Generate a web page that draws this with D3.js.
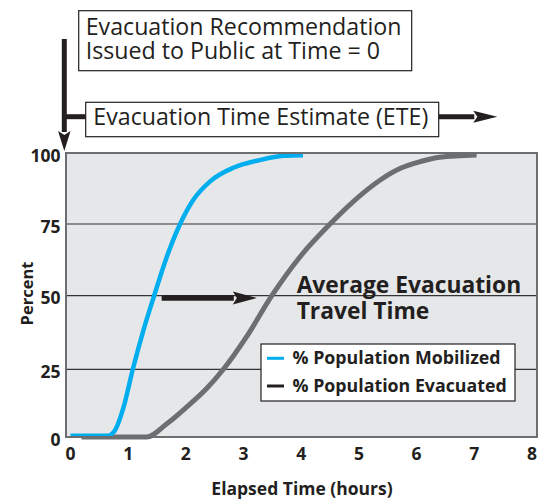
<!DOCTYPE html>
<html><head><meta charset="utf-8">
<script src="https://cdn.jsdelivr.net/npm/d3@7"></script>
<style>body{margin:0;background:#fff}svg{display:block}text{font-family:"Open Sans",sans-serif;fill:#231f20}</style>
</head><body><svg id="c" width="544" height="500"></svg>
<script>
// ---- data ----
const hourTicks = [0,1,2,3,4,5,6,7,8];
const percentTicks = [0,25,50,75,100];
const mobilizedTime = [0,0.65,0.77,0.92,1.08,1.26,1.45,1.67,1.90,2.13,2.42,2.82,3.28,3.69,4.03];
const mobilizedPct  = [0.5,0.5,2.4,11,25,38,50,63.6,75,83.5,90,94.8,97.5,99,99.2];
const evacuatedTime = [0.19,1.32,1.67,2.01,2.36,2.65,3.05,3.49,3.98,4.50,5.02,5.37,5.72,6.07,6.40,7.04];
const evacuatedPct  = [0,0,4.9,11,17.9,25,36,50,63.6,75,85,90.5,94.6,97,98.5,99.3];
const seriesNames = ["% Population Mobilized","% Population Evacuated"];
const seriesColors = ["#00aeef","#6d6e70"];
const legendSwatch = ["#00aeef","#231f20"];
const travelArrowTime = [1.58,3.23];
const travelArrowPct = 49.2;
const travelLabel = ["Average Evacuation","Travel Time"];
const travelLabelAt = [3.92, 51];
const topBoxLines = ["Evacuation Recommendation","Issued to Public at Time = 0"];
const eteLabel = "Evacuation Time Estimate (ETE)";
const xTitle = "Elapsed Time (hours)";
const yTitle = "Percent";

// ---- layout ----
const svg = d3.select("#c");
const plot = {l:66, r:537, t:153, b:437};
const x = d3.scaleLinear().domain([0,8]).range([70.5,532]);
const y = d3.scaleLinear().domain(percentTicks).range([437,369.3,295.7,224,153]);
const ink = "#231f20";

// plot background
svg.append("rect").attr("x",plot.l).attr("y",plot.t).attr("width",plot.r-plot.l).attr("height",plot.b-plot.t)
  .attr("fill","#e6e7e8");
// gridlines
svg.append("g").selectAll("line").data(percentTicks.filter(d=>d>0&&d<100)).join("line")
  .attr("x1",plot.l).attr("x2",plot.r).attr("y1",d=>y(d)).attr("y2",d=>y(d))
  .attr("stroke","#333").attr("stroke-width",1.2);

// series
const line = d3.line().x(d=>x(d[0])).y(d=>y(d[1])).curve(d3.curveMonotoneX);
const evac = evacuatedTime.map((t,i)=>[t,evacuatedPct[i]]);
const mob = mobilizedTime.map((t,i)=>[t,mobilizedPct[i]]);
svg.append("path").attr("d",line(evac)).attr("fill","none").attr("stroke",seriesColors[1]).attr("stroke-width",5);
svg.append("path").attr("d",line(mob)).attr("fill","none").attr("stroke",seriesColors[0]).attr("stroke-width",4.5);

// border
svg.append("rect").attr("x",plot.l).attr("y",plot.t).attr("width",plot.r-plot.l).attr("height",plot.b-plot.t)
  .attr("fill","none").attr("stroke","#6d6e70").attr("stroke-width",2);

// arrow helper
function hArrow(x1,x2,yy,shaft,headLen,headW){
  svg.append("line").attr("x1",x1).attr("x2",x2-headLen+1).attr("y1",yy).attr("y2",yy)
    .attr("stroke",ink).attr("stroke-width",shaft);
  svg.append("path").attr("d",`M${x2},${yy}L${x2-headLen},${yy-headW/2}L${x2-headLen+4},${yy}L${x2-headLen},${yy+headW/2}Z`).attr("fill",ink);
}
function vArrow(xx,y1,y2,shaft,headLen,headW){
  svg.append("line").attr("x1",xx).attr("x2",xx).attr("y1",y1).attr("y2",y2-headLen+1)
    .attr("stroke",ink).attr("stroke-width",shaft);
  svg.append("path").attr("d",`M${xx},${y2}L${xx-headW/2},${y2-headLen}L${xx},${y2-headLen+4}L${xx+headW/2},${y2-headLen}Z`).attr("fill",ink);
}

// travel time arrow
hArrow(x(travelArrowTime[0]),x(travelArrowTime[1]),y(travelArrowPct),5.5,24,13);
const tl = svg.append("text").attr("x",x(travelLabelAt[0])).attr("y",y(travelLabelAt[1]))
  .attr("font-size",22.8).attr("font-weight","bold");
tl.selectAll("tspan").data(travelLabel).join("tspan").attr("x",x(travelLabelAt[0])).attr("dy",(d,i)=>i?26.3:0).text(d=>d);

// legend
const lg = svg.append("g").attr("transform","translate(261,344)");
lg.append("rect").attr("width",254).attr("height",57).attr("fill","#fff").attr("stroke",ink).attr("stroke-width",1.2);
seriesNames.forEach((n,i)=>{
  const yy = 14.3+i*27.7;
  lg.append("line").attr("x1",6).attr("x2",23).attr("y1",yy).attr("y2",yy).attr("stroke",legendSwatch[i]).attr("stroke-width",3);
  lg.append("text").attr("x",31.5).attr("y",yy+5.8).attr("font-size",17.8).attr("font-weight","bold").text(n);
});

// y axis labels
svg.append("g").selectAll("text").data(percentTicks).join("text")
  .attr("x",60.5).attr("y",d=>y(d)+8.5).attr("text-anchor","end").attr("font-size",17.5).attr("font-weight","bold").text(d=>d);
// x axis labels
svg.append("g").selectAll("text").data(hourTicks).join("text")
  .attr("x",d=>x(d)).attr("y",459.5).attr("text-anchor","middle").attr("font-size",17.5).attr("font-weight","bold").text(d=>d);
// titles
svg.append("text").attr("x",302).attr("y",495).attr("text-anchor","middle").attr("font-size",17.5).attr("font-weight","bold").text(xTitle);
svg.append("text").attr("transform","translate(32.5,293.5) rotate(-90)").attr("text-anchor","middle").attr("font-size",16.5).attr("font-weight","bold").text(yTitle);

// top annotation
svg.append("rect").attr("x",78.7).attr("y",10.7).attr("width",333).attr("height",60).attr("fill","#fff").attr("stroke",ink).attr("stroke-width",1.2);
svg.append("text").attr("font-size",23.2).selectAll("tspan").data(topBoxLines).join("tspan")
  .attr("x",85.7).attr("y",(d,i)=>35+i*24.3).text(d=>d);
vArrow(64.3,39,151,5,20,12.5);
svg.append("line").attr("x1",64).attr("x2",86).attr("y1",116.7).attr("y2",116.7).attr("stroke",ink).attr("stroke-width",5);
svg.append("rect").attr("x",85.7).attr("y",102.3).attr("width",353).attr("height",34.4).attr("fill","#fff").attr("stroke",ink).attr("stroke-width",1.2);
svg.append("text").attr("x",93.3).attr("y",125).attr("font-size",23.2).text(eteLabel);
hArrow(438.7,497.3,116.7,5,24,12);
</script></body></html>
